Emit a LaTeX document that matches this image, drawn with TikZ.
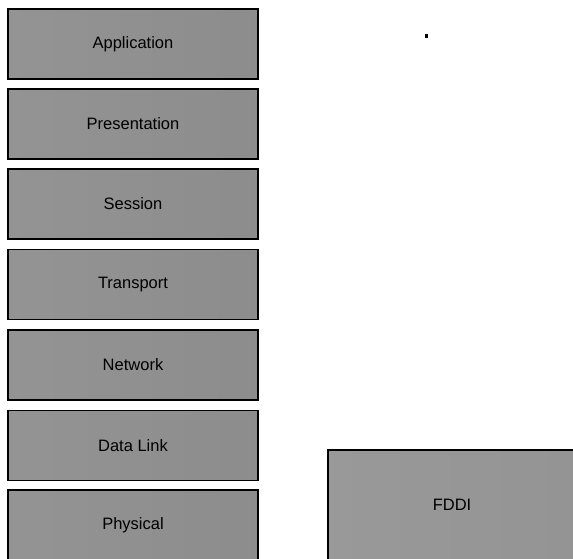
\documentclass[tikz,border=0pt]{standalone}
\usepackage{fontspec}
\setmainfont{Liberation Sans}
\begin{document}
\begin{tikzpicture}[x=1pt,y=-1pt,
  layer/.style={draw=black, line width=1.8pt,
    left color=black!42, middle color=black!30, right color=black!45,
    minimum width=250pt, minimum height=70pt, inner sep=0pt,
    font=\fontsize{16.5}{18}\selectfont, text=black},
  medium/.style={layer, left color=black!40, middle color=black!28, right color=black!42,
    minimum width=248pt, minimum height=110pt}]
\useasboundingbox (0,0) rectangle (573,558);
\clip (0,0) rectangle (573,558);
% OSI reference model stack
\node[layer] (app)  at (133,44)  {Application};
\node[layer] (pres) at (133,124) {Presentation};
\node[layer] (sess) at (133,204) {Session};
\node[layer] (tran) at (133,284.5) {Transport};
\node[layer] (net)  at (133,365) {Network};
\node[layer] (dl)   at (133,445.5) {Data Link};
\node[layer] (phy)  at (133,525) {Physical};
% network medium
\node[medium] (fddi) at (452,505) {FDDI};
% stray mark
\node[fill=black, minimum width=3pt, minimum height=4pt, inner sep=0pt] (dot) at (426,36) {};
\end{tikzpicture}
\end{document}
